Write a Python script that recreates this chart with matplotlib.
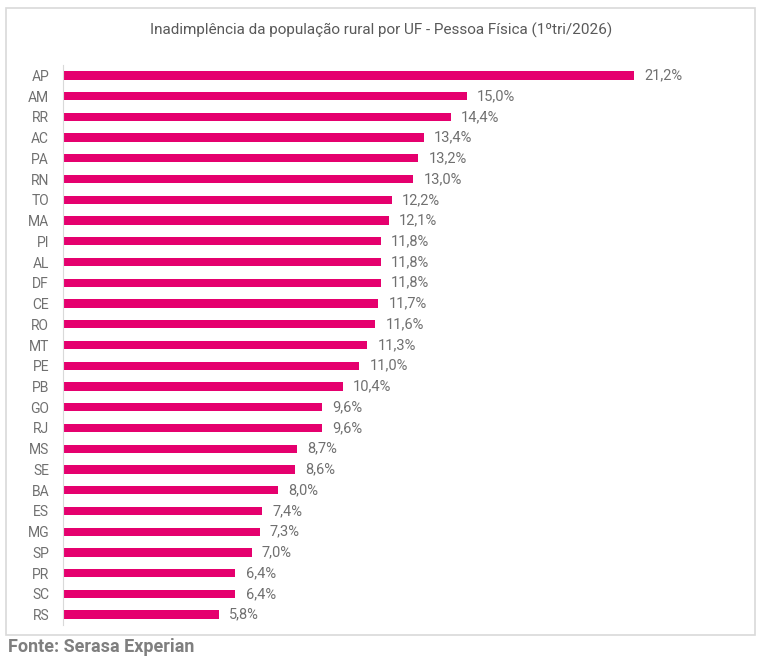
import matplotlib.pyplot as plt
from matplotlib.patches import Rectangle

plt.rcParams['font.family'] = ['Roboto', 'DejaVu Sans']

ufs = ['AP', 'AM', 'RR', 'AC', 'PA', 'RN', 'TO', 'MA', 'PI', 'AL', 'DF', 'CE', 'RO',
       'MT', 'PE', 'PB', 'GO', 'RJ', 'MS', 'SE', 'BA', 'ES', 'MG', 'SP', 'PR', 'SC', 'RS']
taxa = [21.2, 15.0, 14.4, 13.4, 13.2, 13.0, 12.2, 12.1, 11.8, 11.8, 11.8, 11.7, 11.6,
        11.3, 11.0, 10.4, 9.6, 9.6, 8.7, 8.6, 8.0, 7.4, 7.3, 7.0, 6.4, 6.4, 5.8]
titulo = 'Inadimplência da população rural por UF - Pessoa Física (1ºtri/2026)'
fonte = 'Fonte: Serasa Experian'

W, H = 763, 662
fig = plt.figure(figsize=(W / 100, H / 100), dpi=100)

# moldura cinza em volta do grafico
fig.patches.append(Rectangle((6 / W, 1 - 635 / H), 749 / W, 627 / H, transform=fig.transFigure,
                             fill=False, edgecolor='#d9d9d9', linewidth=1.2))

ax = fig.add_axes([63 / W, (H - 625) / H, 660 / W, 560 / H])
pos = list(range(len(ufs)))
ax.barh(pos, taxa, height=0.4, color='#e5006e')
ax.set_xlim(0, 660 / 26.93)
ax.set_ylim(len(ufs) - 0.5, -0.5)
ax.set_yticks(pos)
ax.set_yticklabels(ufs, fontsize=10, color='#707070')
ax.tick_params(axis='y', length=0, pad=10)
ax.set_xticks([])
for s in ['top', 'right', 'bottom']:
    ax.spines[s].set_visible(False)
ax.spines['left'].set_color('#d9d9d9')

for i, v in enumerate(taxa):
    ax.text(v + 0.38, i, f'{v:.1f}'.replace('.', ',') + '%', va='center', ha='left',
            fontsize=10.5, color='#707070')

fig.text(381 / W, 1 - 30 / H, titulo, ha='center', va='center', fontsize=11, color='#595959')
fig.text(8 / W, 1 - 647 / H, fonte, ha='left', va='center', fontsize=13,
         fontweight='bold', color='#7f7f7f')

fig.savefig('out.png', dpi=100)
